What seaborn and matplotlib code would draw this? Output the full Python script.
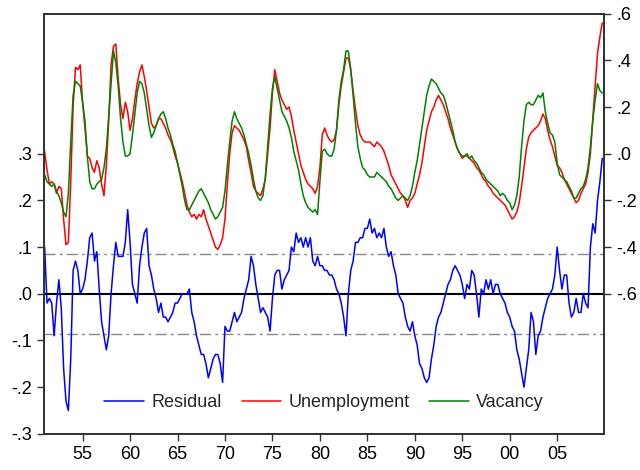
import numpy as np
import pandas as pd
import matplotlib
matplotlib.use("Agg")
import matplotlib.pyplot as plt
import seaborn as sns

# quarterly dates, 1951Q1 - 2009Q4
dates = np.arange(1951.0, 2010.0, 0.25)

# residual (left axis)
residual = [
    0.10, -0.02, -0.01, -0.02,  -0.09, -0.02, 0.03, -0.03,  -0.16, -0.23, -0.25, -0.14,  0.05, 0.07, 0.05, 0.00,
    0.01, 0.03, 0.07, 0.12,  0.13, 0.07, 0.09, 0.01,  -0.06, -0.09, -0.12, -0.09,  0.00, 0.06, 0.11, 0.08,
    0.08, 0.08, 0.11, 0.18,  0.11, 0.02, 0.00, -0.02,  0.06, 0.10, 0.13, 0.14,  0.06, 0.04, 0.01, -0.01,
    -0.04, -0.02, -0.05, -0.05,  -0.06, -0.05, -0.04, -0.02,  -0.02, -0.01, 0.00, 0.00,  0.00, 0.01, -0.04, -0.06,
    -0.09, -0.11, -0.13, -0.13,  -0.15, -0.18, -0.16, -0.14,  -0.13, -0.13, -0.15, -0.19,  -0.07, -0.08, -0.08, -0.06,
    -0.04, -0.06, -0.05, -0.04,  -0.01, 0.01, 0.03, 0.08,  0.06, 0.02, -0.01, -0.04,  -0.03, -0.04, -0.05, -0.08,
    -0.01, 0.04, 0.05, 0.05,  0.01, 0.03, 0.04, 0.05,  0.10, 0.09, 0.13, 0.11,  0.12, 0.10, 0.12, 0.10,
    0.12, 0.07, 0.06, 0.08,  0.06, 0.06, 0.05, 0.05,  0.04, 0.04, 0.03, 0.01,  0.00, -0.02, -0.05, -0.09,
    0.00, 0.05, 0.07, 0.11,  0.11, 0.12, 0.12, 0.14,  0.14, 0.16, 0.13, 0.14,  0.12, 0.13, 0.12, 0.14,
    0.10, 0.08, 0.09, 0.06,  0.04, 0.00, -0.01, -0.02,  -0.05, -0.07, -0.08, -0.06,  -0.09, -0.11, -0.15, -0.16,
    -0.18, -0.19, -0.18, -0.14,  -0.11, -0.07, -0.05, -0.04,  -0.02, 0.00, 0.02, 0.03,  0.05, 0.06, 0.05, 0.04,
    0.02, -0.01, 0.02, 0.01,  0.05, 0.04, 0.00, -0.05,  0.01, 0.00, 0.03, 0.01,  0.03, 0.00, 0.02, 0.02,
    0.00, -0.01, -0.02, -0.04,  -0.05, -0.07, -0.08, -0.12,  -0.14, -0.17, -0.20, -0.16,  -0.12, -0.04, -0.06, -0.13,
    -0.09, -0.08, -0.05, -0.03,  -0.01, 0.00, 0.01, 0.04,  0.10, 0.05, 0.01, 0.04,  0.04, -0.02, -0.05, -0.04,
    -0.01, -0.04, -0.04, 0.00,  -0.02, -0.03, 0.10, 0.15,  0.13, 0.20, 0.24, 0.29,
]

# unemployment (right axis)
unemployment = [
    0.01, -0.07, -0.13, -0.12,  -0.13, -0.17, -0.14, -0.15,  -0.28, -0.39, -0.38, -0.12,  0.20, 0.37, 0.36, 0.38,
    0.22, 0.11, -0.01, -0.02,  -0.06, -0.08, -0.03, -0.06,  -0.13, -0.18, -0.05, 0.14,  0.38, 0.46, 0.47, 0.32,
    0.21, 0.15, 0.22, 0.18,  0.10, 0.15, 0.23, 0.30,  0.35, 0.38, 0.33, 0.27,  0.20, 0.13, 0.11, 0.12,
    0.15, 0.15, 0.13, 0.11,  0.08, 0.06, 0.03, -0.01,  -0.04, -0.08, -0.12, -0.17,  -0.22, -0.25, -0.27, -0.26,
    -0.28, -0.26, -0.27, -0.24,  -0.28, -0.31, -0.34, -0.37,  -0.40, -0.41, -0.39, -0.36,  -0.28, -0.13, 0.00, 0.09,
    0.12, 0.11, 0.10, 0.08,  0.06, 0.03, -0.03, -0.08,  -0.14, -0.16, -0.17, -0.18,  -0.15, -0.11, 0.00, 0.11,
    0.26, 0.36, 0.31, 0.26,  0.23, 0.21, 0.19, 0.20,  0.16, 0.10, 0.05, 0.00,  -0.05, -0.08, -0.11, -0.13,
    -0.14, -0.15, -0.17, -0.14,  -0.06, 0.08, 0.11, 0.08,  0.06, 0.05, 0.06, 0.10,  0.21, 0.29, 0.35, 0.41,
    0.41, 0.36, 0.27, 0.19,  0.12, 0.08, 0.06, 0.05,  0.05, 0.05, 0.04, 0.03,  0.05, 0.04, 0.03, 0.01,
    -0.02, -0.05, -0.09, -0.11,  -0.13, -0.15, -0.17, -0.18,  -0.20, -0.23, -0.20, -0.19,  -0.17, -0.13, -0.09, -0.04,
    0.03, 0.10, 0.14, 0.18,  0.20, 0.23, 0.25, 0.23,  0.21, 0.18, 0.15, 0.11,  0.08, 0.05, 0.02, 0.00,
    -0.02, -0.01, -0.01, -0.02,  -0.03, -0.04, -0.06, -0.07,  -0.09, -0.11, -0.12, -0.14,  -0.15, -0.17, -0.18, -0.19,
    -0.20, -0.21, -0.22, -0.24,  -0.26, -0.28, -0.27, -0.25,  -0.21, -0.14, -0.06, 0.02,  0.07, 0.09, 0.10, 0.11,
    0.12, 0.14, 0.17, 0.15,  0.10, 0.06, 0.03, -0.01,  -0.05, -0.06, -0.08, -0.11,  -0.13, -0.15, -0.17, -0.19,
    -0.21, -0.20, -0.17, -0.15,  -0.13, -0.08, 0.00, 0.15,  0.29, 0.43, 0.50, 0.56,
]

# vacancy (right axis)
vacancy = [
    -0.09, -0.12, -0.13, -0.14,  -0.13, -0.16, -0.18, -0.21,  -0.25, -0.27, -0.17, 0.05,  0.25, 0.31, 0.30, 0.29,
    0.22, 0.14, -0.01, -0.12,  -0.15, -0.15, -0.13, -0.12,  -0.11, -0.06, 0.02, 0.16,  0.30, 0.44, 0.39, 0.29,
    0.15, 0.05, -0.01, -0.01,  0.00, 0.08, 0.17, 0.26,  0.31, 0.30, 0.26, 0.19,  0.12, 0.07, 0.09, 0.12,
    0.15, 0.17, 0.18, 0.15,  0.11, 0.08, 0.04, 0.01,  -0.04, -0.09, -0.14, -0.20,  -0.24, -0.24, -0.22, -0.20,
    -0.18, -0.16, -0.15, -0.17,  -0.19, -0.21, -0.24, -0.26,  -0.28, -0.27, -0.25, -0.23,  -0.16, -0.05, 0.05, 0.14,
    0.18, 0.15, 0.13, 0.11,  0.08, 0.04, 0.00, -0.05,  -0.11, -0.16, -0.19, -0.20,  -0.18, -0.10, 0.03, 0.17,
    0.28, 0.33, 0.28, 0.23,  0.18, 0.16, 0.14, 0.11,  0.07, 0.01, -0.03, -0.07,  -0.13, -0.18, -0.21, -0.23,
    -0.24, -0.25, -0.24, -0.26,  -0.12, 0.01, 0.02, 0.00,  -0.01, -0.01, 0.02, 0.10,  0.23, 0.31, 0.36, 0.44,
    0.44, 0.36, 0.25, 0.13,  0.03, -0.02, -0.06, -0.07,  -0.09, -0.10, -0.10, -0.10,  -0.08, -0.09, -0.10, -0.11,
    -0.12, -0.14, -0.15, -0.17,  -0.19, -0.20, -0.19, -0.18,  -0.19, -0.20, -0.18, -0.14,  -0.08, -0.03, 0.04, 0.11,
    0.18, 0.25, 0.29, 0.32,  0.31, 0.30, 0.28, 0.26,  0.25, 0.22, 0.18, 0.14,  0.10, 0.05, 0.02, 0.00,
    -0.01, -0.01, 0.00, -0.02,  -0.01, -0.03, -0.04, -0.06,  -0.08, -0.09, -0.11, -0.12,  -0.13, -0.14, -0.15, -0.16,
    -0.18, -0.17, -0.18, -0.20,  -0.21, -0.24, -0.22, -0.18,  -0.10, 0.03, 0.14, 0.21,  0.22, 0.21, 0.21, 0.23,
    0.25, 0.24, 0.26, 0.18,  0.13, 0.09, 0.08, 0.05,  -0.04, -0.09, -0.10, -0.11,  -0.12, -0.14, -0.16, -0.19,
    -0.19, -0.17, -0.15, -0.14,  -0.11, -0.06, 0.03, 0.14,  0.23, 0.30, 0.27, 0.26,
]

band = 0.086  # +/- 1 s.e. of the residual
year_ticks = list(range(1955, 2010, 5))
year_labels = ["55", "60", "65", "70", "75", "80", "85", "90", "95", "00", "05"]
left_ticks = [-0.3, -0.2, -0.1, 0.0, 0.1, 0.2, 0.3]
left_labels = ["-.3", "-.2", "-.1", ".0", ".1", ".2", ".3"]
right_ticks = [-0.6, -0.4, -0.2, 0.0, 0.2, 0.4, 0.6]
right_labels = ["-.6", "-.4", "-.2", ".0", ".2", ".4", ".6"]

df = pd.DataFrame({"date": dates, "Residual": residual,
                   "Unemployment": unemployment, "Vacancy": vacancy})

sns.set_style("ticks")
plt.rcParams["font.family"] = ["Liberation Sans", "DejaVu Sans"]
plt.rcParams["font.size"] = 13

fig = plt.figure(figsize=(6.4, 4.7), dpi=100)
ax = fig.add_axes([0.069, 0.077, 0.875, 0.894])
ax2 = ax.twinx()

sns.lineplot(data=df, x="date", y="Residual", ax=ax, color="#0000ff", lw=1.1, label="Residual", legend=False)
ax.axhline(0, color="black", lw=1.5, zorder=0)
ax.axhline(band, color="#888888", lw=1, ls=(0, (8, 3, 2, 3)), zorder=0)
ax.axhline(-band, color="#888888", lw=1, ls=(0, (8, 3, 2, 3)), zorder=0)

sns.lineplot(data=df, x="date", y="Unemployment", ax=ax2, color="#ff0000", lw=1.1, label="Unemployment", legend=False)
sns.lineplot(data=df, x="date", y="Vacancy", ax=ax2, color="#008000", lw=1.1, label="Vacancy", legend=False)

ax.set_xlim(1950.95, 2009.95)
ax.set_ylim(-0.3, 0.6)
ax2.set_ylim(-1.2, 0.6)

ax.set_xticks(year_ticks)
ax.set_xticklabels(year_labels)
ax.set_yticks(left_ticks)
ax.set_yticklabels(left_labels)
ax2.set_yticks(right_ticks)
ax2.set_yticklabels(right_labels)
ax.set_xlabel("")
ax.set_ylabel("")
ax2.set_ylabel("")

for a in (ax, ax2):
    for s in a.spines.values():
        s.set_linewidth(1.3)
        s.set_color("#333333")
        s.set_visible(True)
    a.tick_params(direction="out", length=5, width=1, colors="#333333", labelcolor="black", labelsize=13)

h1, l1 = ax.get_legend_handles_labels()
h2, l2 = ax2.get_legend_handles_labels()
ax2.legend(h1 + h2, l1 + l2, loc="lower center", bbox_to_anchor=(0.5, 0.015), ncol=3,
           frameon=False, fontsize=13, handlelength=2.2, handletextpad=0.4, columnspacing=1.1)

fig.savefig("out.png", dpi=100)
